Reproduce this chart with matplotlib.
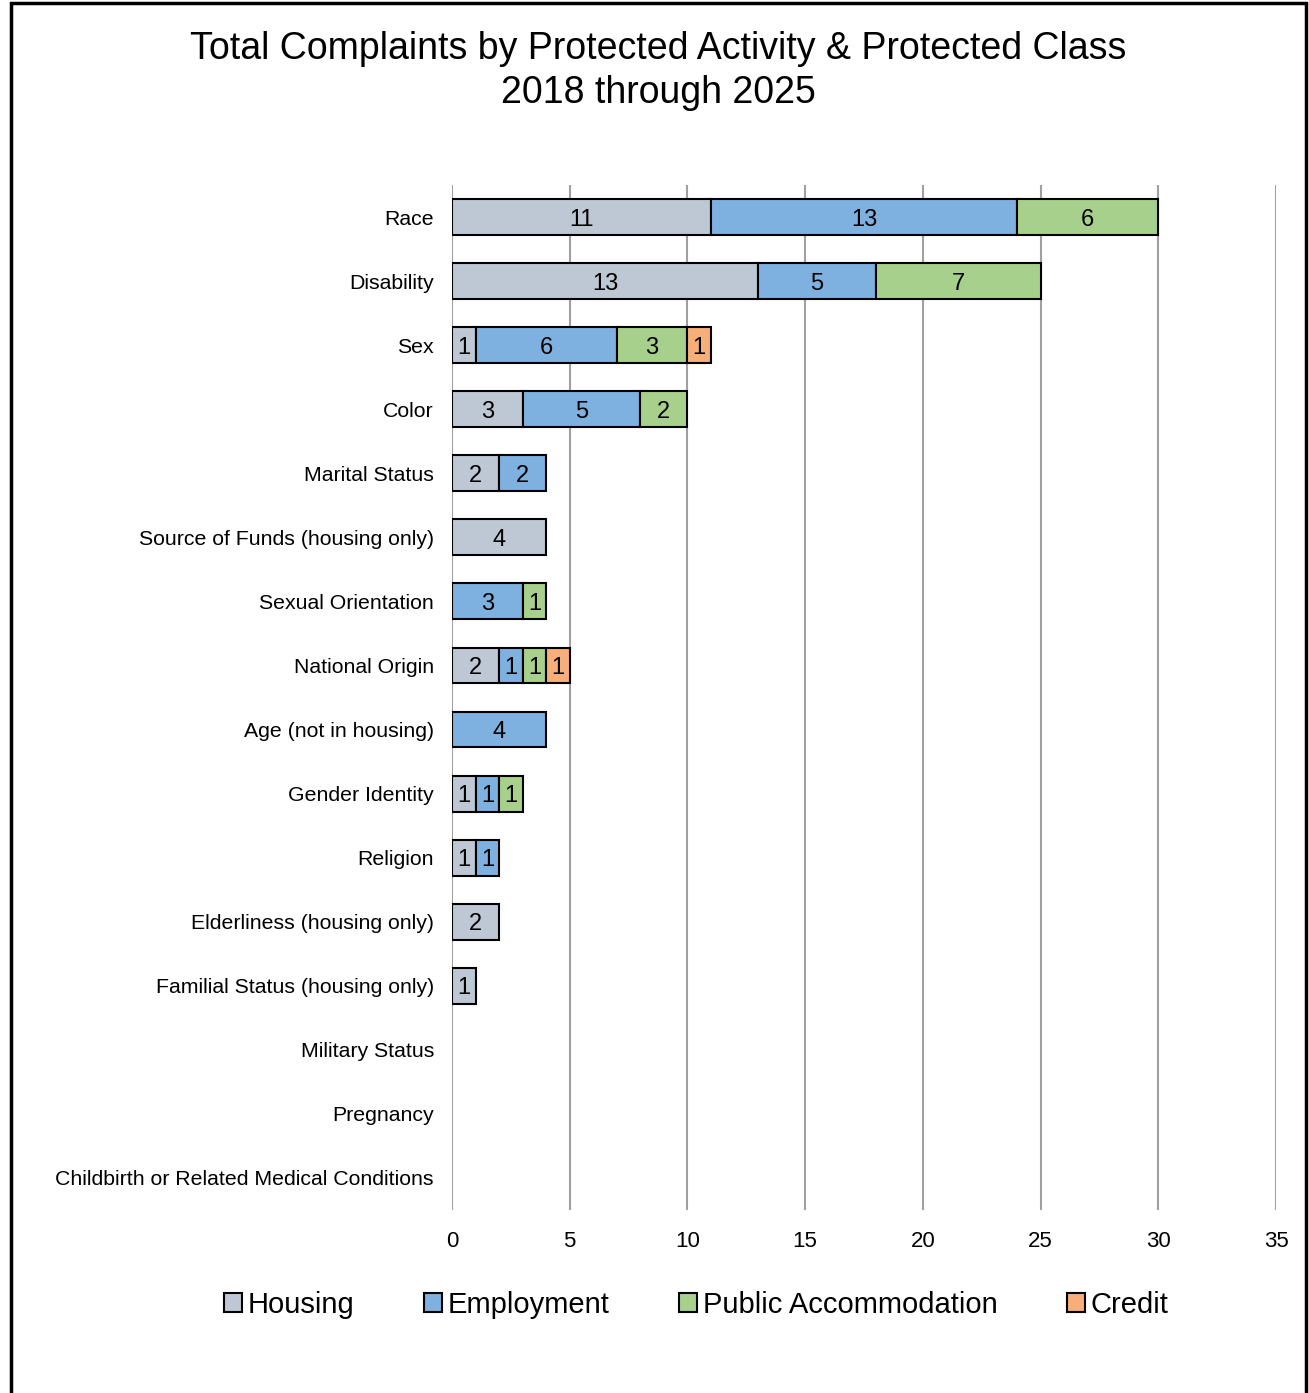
import numpy as np
import matplotlib.pyplot as plt
from matplotlib.patches import Rectangle, Patch

plt.rcParams['font.family'] = ['Liberation Sans', 'DejaVu Sans']

categories = ["Race", "Disability", "Sex", "Color", "Marital Status",
              "Source of Funds (housing only)", "Sexual Orientation",
              "National Origin", "Age (not in housing)", "Gender Identity",
              "Religion", "Elderliness (housing only)",
              "Familial Status (housing only)", "Military Status", "Pregnancy",
              "Childbirth or Related Medical Conditions"]
housing = [11, 13, 1, 3, 2, 4, 0, 2, 0, 1, 1, 2, 1, 0, 0, 0]
employment = [13, 5, 6, 5, 2, 0, 3, 1, 4, 1, 1, 0, 0, 0, 0, 0]
public_acc = [6, 7, 3, 2, 0, 0, 1, 1, 0, 1, 0, 0, 0, 0, 0, 0]
credit = [0, 0, 1, 0, 0, 0, 0, 1, 0, 0, 0, 0, 0, 0, 0, 0]

series = [("Housing", housing, "#BDC8D4"),
          ("Employment", employment, "#7EB0E0"),
          ("Public Accommodation", public_acc, "#A8D08D"),
          ("Credit", credit, "#F8AE78")]

fig = plt.figure(figsize=(13.09, 13.93), dpi=100)
ax = fig.add_axes([0.3453, 0.1314, 0.6295, 0.7358])

y = np.arange(len(categories))
left = np.zeros(len(categories))
handles = []
for name, vals, col in series:
    vals = np.array(vals, dtype=float)
    mask = vals > 0
    ax.barh(y[mask], vals[mask], left=left[mask], height=0.56, color=col,
            edgecolor='black', linewidth=1.5, zorder=3)
    for i, v in enumerate(vals):
        if v > 0:
            ax.text(left[i] + v / 2, y[i], str(int(v)), ha='center',
                    va='center_baseline', fontsize=17, zorder=4)
    left += vals
    handles.append(Patch(facecolor=col, edgecolor='black', linewidth=1.5,
                         label=name))

ax.set_xlim(0, 35)
ax.set_ylim(15.5, -0.5)
ax.set_xticks(range(0, 36, 5))
ax.set_yticks(y)
ax.set_yticklabels(categories, fontsize=15.3)
ax.tick_params(axis='x', labelsize=16, length=0, pad=15)
ax.tick_params(axis='y', length=0, pad=13)
ax.grid(axis='x', color='#A0A0A0', linewidth=1.5, zorder=0)
for s in ax.spines.values():
    s.set_visible(False)

fig.suptitle("Total Complaints by Protected Activity & Protected Class\n2018 through 2025",
             fontsize=27, x=0.503, y=0.978, linespacing=1.3)

fig.legend(handles=handles, loc='center', bbox_to_anchor=(0.532, 0.0635),
           ncol=4, frameon=False, fontsize=21, handlelength=0.6,
           handleheight=0.6, handletextpad=0.2, columnspacing=2.4)

fig.patches.append(Rectangle((0.0084, -0.01), 0.9893, 1.0078,
                             transform=fig.transFigure, fill=False,
                             edgecolor='black', linewidth=2.5))

fig.savefig("out.png", dpi=100)
